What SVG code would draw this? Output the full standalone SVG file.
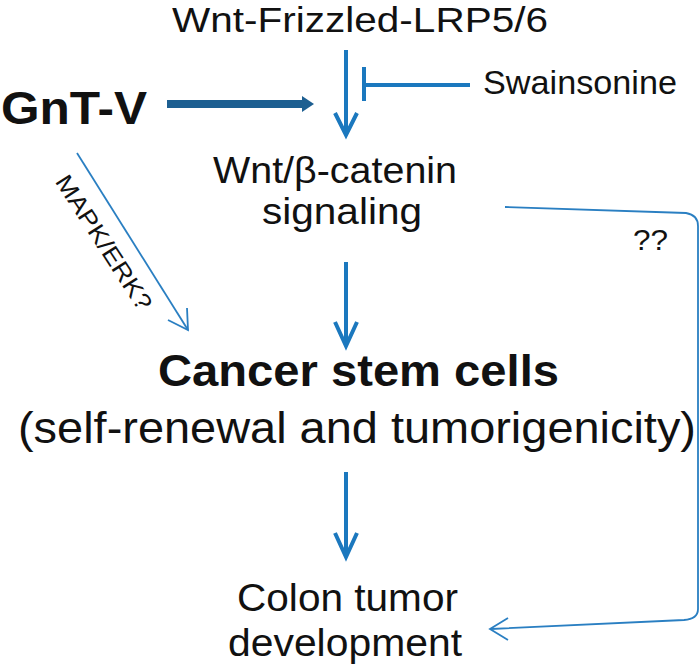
<svg xmlns="http://www.w3.org/2000/svg" width="700" height="668" viewBox="0 0 700 668">
<style>
text{font-family:"Liberation Sans",Arial,sans-serif;fill:#111}
.b{font-weight:bold}
.main{stroke:#1b78be;stroke-width:4;fill:none}
.thin{stroke:#2a7fc2;stroke-width:1.8;fill:none}
</style>
<rect width="700" height="668" fill="#fff"/>
<g id="wnt-frizzled"><text x="172" y="32" font-size="35" textLength="376" lengthAdjust="spacingAndGlyphs">Wnt-Frizzled-LRP5/6</text></g>
<g id="swainsonine"><text x="483" y="94" font-size="34" textLength="194" lengthAdjust="spacingAndGlyphs">Swainsonine</text></g>
<g id="gntv"><text class="b" x="1" y="124" font-size="46" textLength="146" lengthAdjust="spacingAndGlyphs">GnT-V</text></g>
<g id="wnt-catenin"><text x="213" y="183" font-size="37" textLength="244" lengthAdjust="spacingAndGlyphs">Wnt/β-catenin</text><text x="262" y="224" font-size="37" textLength="160" lengthAdjust="spacingAndGlyphs">signaling</text></g>
<g id="csc"><text class="b" x="158" y="386" font-size="45" textLength="401" lengthAdjust="spacingAndGlyphs">Cancer stem cells</text><text x="18" y="443" font-size="45" textLength="678" lengthAdjust="spacingAndGlyphs">(self-renewal and tumorigenicity)</text></g>
<g id="colon"><text x="237" y="611" font-size="38" textLength="221" lengthAdjust="spacingAndGlyphs">Colon tumor</text><text x="228" y="656" font-size="38" textLength="234" lengthAdjust="spacingAndGlyphs">development</text></g>
<g id="connectors">
<line class="main" x1="346" y1="50" x2="346" y2="133"/>
<polyline class="main" points="335,113 346,135 357,113"/>
<line class="main" x1="364" y1="67" x2="364" y2="101"/>
<line class="main" x1="364" y1="85" x2="470" y2="85"/>
<line x1="167" y1="104" x2="305" y2="104" stroke="#1d5f91" stroke-width="8"/>
<polygon points="302,96 314,104 302,112" fill="#1d5f91"/>
<line class="main" x1="346" y1="262" x2="346" y2="344"/>
<polyline class="main" points="335,322 346,346 357,322"/>
<line class="main" x1="346" y1="472" x2="346" y2="556"/>
<polyline class="main" points="335,533 346,557 357,533"/>
<line class="thin" x1="77" y1="153" x2="188" y2="330"/>
<polyline class="thin" points="168,320 188,330 187,308"/>
<path class="thin" d="M505,207 L686,213 Q698,215 698,226 L698,609 Q698,619 684,620 L491,629"/>
<polyline class="thin" points="508,618 490,629 508,640"/>
<text x="0" y="0" font-size="24" textLength="156" lengthAdjust="spacingAndGlyphs" text-anchor="middle" transform="translate(97,247) rotate(57)">MAPK/ERK?</text>
<text x="633" y="250" font-size="30" textLength="35" lengthAdjust="spacingAndGlyphs">??</text>
</g>
</svg>
